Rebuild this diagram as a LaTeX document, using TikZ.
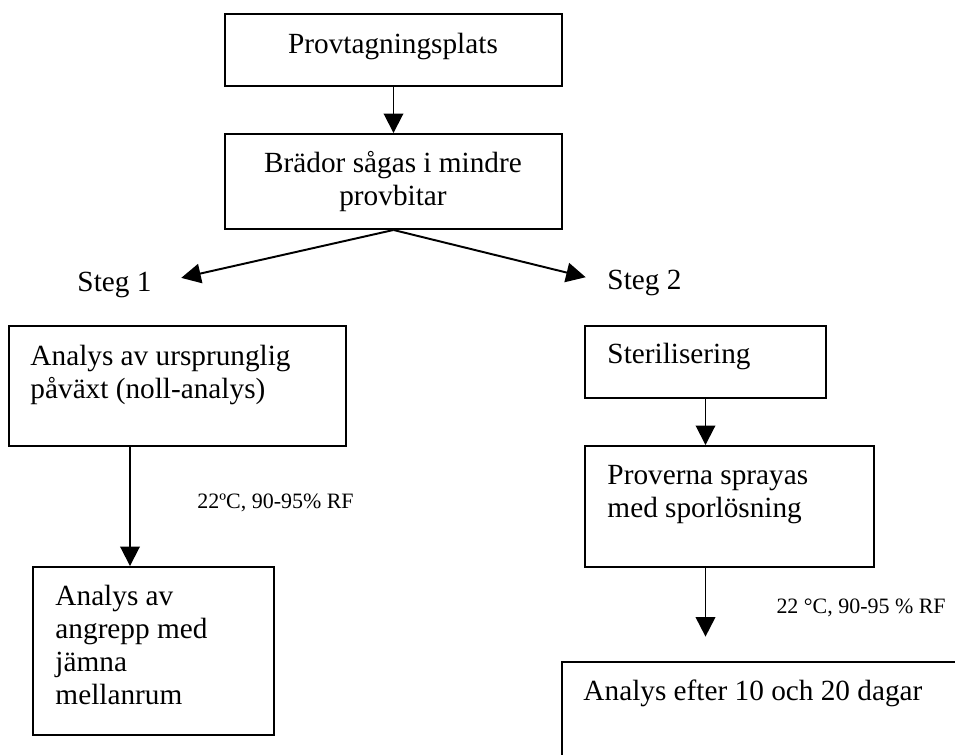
\documentclass[tikz,border=0pt]{standalone}
\usepackage{fontspec}
\setmainfont{Liberation Serif}
\usetikzlibrary{arrows.meta,fit}

\tikzset{
  ruta/.style={draw, line width=0.8pt, inner sep=0pt},
  txt/.style={inner sep=0pt, anchor=base west, align=flush left, text width=160pt,
    font=\fontsize{12}{13.6}\selectfont},
  txtc/.style={txt, anchor=base, align=flush center},
  rubrik/.style={inner sep=0pt, anchor=base west, font=\fontsize{12}{13.6}\selectfont},
  liten/.style={inner sep=0pt, anchor=base west, font=\fontsize{9}{11}\selectfont},
  pil/.style={-{Triangle[length=8pt,width=8pt]}, line width=0.8pt},
}

\begin{document}
\begin{tikzpicture}[x=0.41pt,y=-0.41pt]
  \useasboundingbox (0,0) rectangle (955,754);
  \clip (0,0) rectangle (955,754);

  % rutor
  \node[ruta, fit={(225,14) (562,86)}]   (plats)  {};
  \node[ruta, fit={(225,134) (562,229)}] (brador) {};
  \node[ruta, fit={(9,326) (346,446)}]   (ursp)   {};
  \node[ruta, fit={(33,567) (274,735)}]  (angr)   {};
  \node[ruta, fit={(585,326) (826,398)}] (steril) {};
  \node[ruta, fit={(585,446) (874,567)}] (sprej)  {};
  \node[ruta, fit={(562,662) (1000,820)}] (analys) {};

  % texter
  \node[txtc] (tplats)  at (393,53)  {Provtagningsplats};
  \node[txtc] (tbrador) at (393,172) {Brädor sågas i mindre\\provbitar};
  \node[rubrik] (steg1) at (77,291)  {Steg 1};
  \node[rubrik] (steg2) at (607,289) {Steg 2};
  \node[txt] (tursp)   at (30,365)  {Analys av ursprunglig\\påväxt (noll-analys)};
  \node[txt] (tangr)   at (55,605)  {Analys av\\angrepp med\\jämna\\mellanrum};
  \node[txt] (tsteril) at (607,363) {Sterilisering};
  \node[txt] (tsprej)  at (607,484) {Proverna sprayas\\med sporlösning};
  \node[txt] (tanalys) at (583,700) {Analys efter 10 och 20 dagar};
  \node[liten] (klimat1) at (197,508) {22ºC, 90-95\% RF};
  \node[liten] (klimat2) at (776,613) {22 °C, 90-95 \% RF};

  % pilar
  \draw[pil] (plats.south) -- (brador.north);
  \draw[pil, shorten >=12.3pt] (brador.south) -- (steg1.east);
  \draw[pil, shorten >=9pt] (brador.south) -- (steg2.west);
  \draw[pil] (130,0 |- ursp.south) -- (130,0 |- angr.north);
  \draw[pil] (steril.south) -- (steril.south |- sprej.north);
  \draw[pil, shorten >=10pt] (steril.south |- sprej.south) -- (steril.south |- analys.north);
\end{tikzpicture}
\end{document}
